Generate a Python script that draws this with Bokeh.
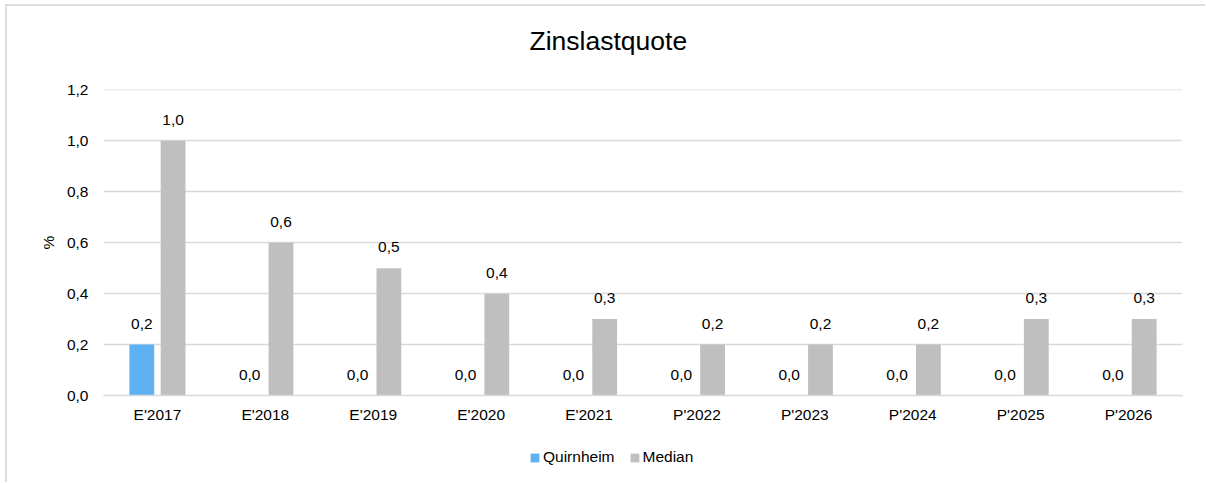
from bokeh.plotting import figure
from bokeh.layouts import column
from bokeh.models import (FactorRange, Range1d, FixedTicker, Legend, LegendItem,
                          ColumnDataSource, Label)
from bokeh.transform import dodge
from bokeh.core.properties import value
from bokeh.embed import file_html
from bokeh.resources import INLINE

title_text = "Zinslastquote"
y_label = "%"
categories = ["E'2017", "E'2018", "E'2019", "E'2020", "E'2021",
              "P'2022", "P'2023", "P'2024", "P'2025", "P'2026"]
quirnheim = [0.2, 0.0, 0.0, 0.0, 0.0, 0.0, 0.0, 0.0, 0.0, 0.0]
median = [1.0, 0.6, 0.5, 0.4, 0.3, 0.2, 0.2, 0.2, 0.3, 0.3]
series_names = ["Quirnheim", "Median"]
y_ticks = [0.0, 0.2, 0.4, 0.6, 0.8, 1.0, 1.2]
y_tick_labels = ["0,0", "0,2", "0,4", "0,6", "0,8", "1,0", "1,2"]

BLUE = "#5EB1F2"
GRAY = "#BFBFBF"
GRID = "#D9D9D9"
FONT = "Liberation Sans"
FS = "15.5px"

def fmt(v):
    return f"{v:.1f}".replace(".", ",")

src = ColumnDataSource(dict(
    cat=categories,
    q=quirnheim,
    m=median,
    ql=[fmt(v) for v in quirnheim],
    ml=[fmt(v) for v in median],
))

def strip(h, **kw):
    f = figure(width=1198, height=h, output_backend="svg", toolbar_location=None,
               min_border_top=0, min_border_bottom=0, **kw)
    f.title = None
    f.axis.visible = False
    f.grid.visible = False
    f.outline_line_color = None
    f.background_fill_color = "white"
    f.border_fill_color = "white"
    return f

# ---- title strip ----
pt = strip(68, x_range=Range1d(0, 1), y_range=Range1d(0, 1),
           min_border_left=0, min_border_right=0)
pt.add_layout(Label(x=426, y=34, x_units="screen", y_units="screen",
                    text=title_text, text_font=FONT, text_font_size="26.5px",
                    text_color="#000000", text_align="left",
                    text_baseline="alphabetic"))

# ---- main chart ----
x_range = FactorRange(*categories)
p = figure(width=1198, height=352, x_range=x_range,
           y_range=Range1d(0, 1.2015), output_backend="svg", toolbar_location=None,
           min_border_left=96, min_border_right=23, min_border_top=15,
           min_border_bottom=31)
p.title = None
p.outline_line_color = None
p.background_fill_color = "white"
p.border_fill_color = "white"

OFF = 0.145
W = 0.23
p.vbar(x=dodge("cat", -OFF, range=x_range), top="q", width=W,
       source=src, fill_color=BLUE, line_color=None)
p.vbar(x=dodge("cat", OFF, range=x_range), top="m", width=W,
       source=src, fill_color=GRAY, line_color=None)

for col, lab, off in (("q", "ql", -OFF), ("m", "ml", OFF)):
    p.text(x=dodge("cat", off, range=x_range), y=col, text=lab, source=src,
           text_align="center", text_baseline="alphabetic", y_offset=-21,
           text_font=value(FONT), text_font_size=FS, text_color="#000000")

p.yaxis.ticker = FixedTicker(ticks=y_ticks)
p.yaxis.major_label_overrides = {t: l for t, l in zip(y_ticks, y_tick_labels)}
p.yaxis.axis_line_color = None
p.yaxis.major_tick_line_color = None
p.yaxis.minor_tick_line_color = None
p.yaxis.major_tick_out = 0
p.yaxis.major_label_standoff = 15
p.yaxis.major_label_text_font = FONT
p.yaxis.major_label_text_font_size = FS
p.yaxis.major_label_text_color = "#000000"
p.yaxis.axis_label = y_label
p.yaxis.axis_label_text_font = FONT
p.yaxis.axis_label_text_font_size = FS
p.yaxis.axis_label_text_font_style = "normal"
p.yaxis.axis_label_text_color = "#000000"
p.yaxis.axis_label_standoff = 7

p.xaxis.axis_line_color = GRID
p.xaxis.axis_line_width = 1.5
p.xaxis.major_tick_line_color = None
p.xaxis.minor_tick_line_color = None
p.xaxis.major_tick_out = 0
p.xaxis.major_label_standoff = 10
p.xaxis.major_label_text_font = FONT
p.xaxis.major_label_text_font_size = FS
p.xaxis.major_label_text_color = "#000000"

p.xgrid.grid_line_color = None
p.ygrid.grid_line_color = GRID
p.ygrid.grid_line_width = 1.5

# ---- legend strip (its bars lie outside its visible y range; they only
# supply the legend swatches) ----
pl = strip(56, x_range=x_range, y_range=Range1d(2, 3),
           min_border_left=96, min_border_right=23)
lq = pl.vbar(x=dodge("cat", -OFF, range=x_range), top="q", width=W,
             source=src, fill_color=BLUE, line_color=None)
lm = pl.vbar(x=dodge("cat", OFF, range=x_range), top="m", width=W,
             source=src, fill_color=GRAY, line_color=None)
legend = Legend(items=[LegendItem(label=series_names[0], renderers=[lq]),
                       LegendItem(label=series_names[1], renderers=[lm])],
                orientation="horizontal", location=(426, 16),
                padding=0, margin=0, spacing=14, label_standoff=3,
                glyph_width=11, glyph_height=11, label_height=18,
                border_line_color=None, background_fill_alpha=0,
                label_text_font=FONT, label_text_font_size=FS,
                label_text_color="#000000")
pl.add_layout(legend, "center")

layout = column(pt, p, pl, spacing=0)
layout.styles = {"margin-left": "5px", "margin-top": "4px",
                 "border-left": "2px solid #DCDCDC",
                 "border-top": "2px solid #DCDCDC"}

open("out.html", "w").write(file_html(layout, INLINE))
